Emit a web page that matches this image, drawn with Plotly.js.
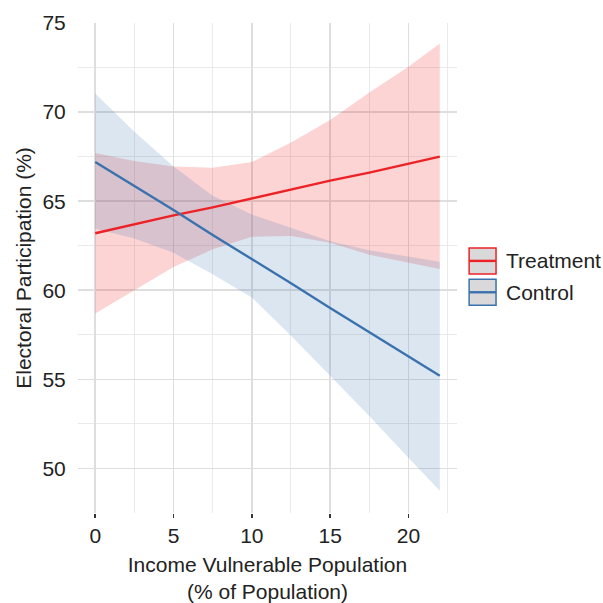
<!DOCTYPE html>
<html>
<head>
<meta charset="utf-8">
<script src="https://cdn.plot.ly/plotly-3.0.1.min.js"></script>
<style>html,body{margin:0;padding:0;background:#fff;}#chart{width:603px;height:603px;}</style>
</head>
<body>
<div id="chart"></div>
<script>
// Data
const xVals = [0, 2.5, 5, 7.5, 10, 12.5, 15, 17.5, 20, 22];

const treatmentFit   = [63.2, 63.7, 64.2, 64.65, 65.15, 65.65, 66.15, 66.6, 67.1, 67.5];
const treatmentUpper = [67.7, 67.25, 66.95, 66.87, 67.2, 68.3, 69.55, 71.1, 72.55, 73.85];
const treatmentLower = [58.7, 60.0, 61.3, 62.3, 63.0, 63.05, 62.67, 62.0, 61.55, 61.2];

const controlFit   = [67.2, 65.85, 64.5, 63.1, 61.75, 60.4, 59.0, 57.65, 56.3, 55.2];
const controlUpper = [71.05, 68.9, 66.95, 65.3, 64.25, 63.5, 62.75, 62.25, 61.9, 61.6];
const controlLower = [63.45, 62.9, 62.1, 60.9, 59.6, 57.45, 55.2, 52.95, 50.6, 48.75];

const groupNames = ["Treatment", "Control"];
const xTickVals = [0, 5, 10, 15, 20];
const yTickVals = [50, 55, 60, 65, 70, 75];

const red = "#EC2227";
const blue = "#3A72AE";

function band(lower, upper, fill) {
  return {
    x: xVals.concat(xVals.slice().reverse()),
    y: lower.concat(upper.slice().reverse()),
    type: "scatter", mode: "lines", fill: "toself",
    fillcolor: fill, line: {width: 0, color: "rgba(0,0,0,0)"},
    hoverinfo: "skip", showlegend: false
  };
}

const traces = [
  band(treatmentLower, treatmentUpper, "rgba(240,40,40,0.2)"),
  band(controlLower, controlUpper, "rgba(55,114,178,0.18)"),
  {x: xVals, y: treatmentFit, type: "scatter", mode: "lines", name: groupNames[0],
   line: {color: red, width: 2.4}, showlegend: false},
  {x: xVals, y: controlFit, type: "scatter", mode: "lines", name: groupNames[1],
   line: {color: blue, width: 2.4}, showlegend: false}
];

const fam = "Liberation Sans, Arial, sans-serif";
const txt = "#222";

// Legend drawn as paper-referenced keys
const keyX0 = 1.032, keyX1 = 1.103;
const shapes = [
  {type: "rect", xref: "paper", yref: "paper", x0: keyX0, x1: keyX1, y0: 0.488, y1: 0.541,
   fillcolor: "#D9D9D9", line: {color: red, width: 1.5}},
  {type: "line", xref: "paper", yref: "paper", x0: keyX0, x1: keyX1, y0: 0.5145, y1: 0.5145,
   line: {color: red, width: 2.4}},
  {type: "rect", xref: "paper", yref: "paper", x0: keyX0, x1: keyX1, y0: 0.424, y1: 0.477,
   fillcolor: "#D9D9D9", line: {color: blue, width: 1.5}},
  {type: "line", xref: "paper", yref: "paper", x0: keyX0, x1: keyX1, y0: 0.4505, y1: 0.4505,
   line: {color: blue, width: 2.4}}
];
const annotations = [
  {xref: "paper", yref: "paper", x: 1.124, y: 0.5145, text: groupNames[0], showarrow: false,
   xanchor: "left", yanchor: "middle", font: {family: fam, size: 21, color: txt}},
  {xref: "paper", yref: "paper", x: 1.124, y: 0.4505, text: groupNames[1], showarrow: false,
   xanchor: "left", yanchor: "middle", font: {family: fam, size: 21, color: txt}}
];

const layout = {
  width: 603, height: 603,
  margin: {l: 78, r: 146, t: 23, b: 90, pad: 0},
  paper_bgcolor: "#fff", plot_bgcolor: "#fff",
  font: {family: fam, color: txt, size: 21},
  showlegend: false,
  xaxis: {
    range: [-1.1, 23.1], tickvals: xTickVals, ticktext: xTickVals.map(String),
    showgrid: true, gridcolor: "#DEDEDE", gridwidth: 1.6,
    minor: {dtick: 2.5, tick0: 0, showgrid: true, gridcolor: "#E8E8E8", gridwidth: 0.9},
    zeroline: false, showline: false,
    ticks: "outside", ticklen: 4, tickwidth: 1.6, tickcolor: "#333",
    tickfont: {family: fam, size: 21, color: txt},
    title: {text: "Income Vulnerable Population<br>(% of Population)",
            font: {family: fam, size: 21, color: txt}, standoff: 11}
  },
  yaxis: {
    range: [47.5, 75], tickvals: yTickVals, ticktext: yTickVals.map(String),
    showgrid: true, gridcolor: "#DEDEDE", gridwidth: 1.6,
    minor: {dtick: 2.5, tick0: 0, showgrid: true, gridcolor: "#E8E8E8", gridwidth: 0.9},
    zeroline: false, showline: false,
    ticks: "outside", ticklen: 7, tickcolor: "rgba(0,0,0,0)",
    tickfont: {family: fam, size: 21, color: txt},
    title: {text: "Electoral Participation (%)",
            font: {family: fam, size: 21, color: txt}, standoff: 5}
  },
  shapes: shapes,
  annotations: annotations
};

Plotly.newPlot("chart", traces, layout, {displayModeBar: false, staticPlot: true});
</script>
</body>
</html>
